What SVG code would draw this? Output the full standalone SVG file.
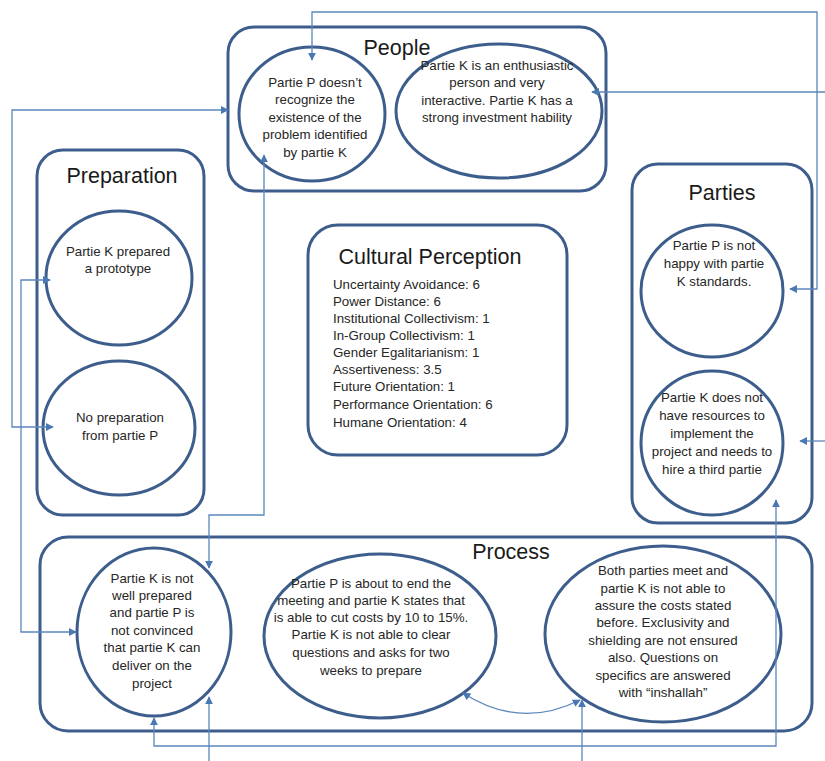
<svg xmlns="http://www.w3.org/2000/svg" width="825" height="761" viewBox="0 0 825 761">
  <style>
    .box { fill: #ffffff; stroke: #3d5e8c; stroke-width: 3; }
    .node { fill: #ffffff; stroke: #3d5e8c; stroke-width: 3; }
    .link { fill: none; stroke: #5b86bd; stroke-width: 1.3; }
    .title { font-family: "Liberation Sans", Arial, sans-serif; font-size: 21.5px; fill: #1a1a1a; text-anchor: middle; }
    .t { font-family: "Liberation Sans", Arial, sans-serif; font-size: 13.3px; fill: #262626; text-anchor: middle; }
    .list { font-family: "Liberation Sans", Arial, sans-serif; font-size: 13.3px; fill: #262626; }
  </style>
  <defs>
    <marker id="arrow" viewBox="0 0 10 10" refX="9" refY="5" markerWidth="8" markerHeight="8" markerUnits="userSpaceOnUse" orient="auto-start-reverse">
      <path d="M0,0 L10,5 L0,10 z" fill="#4a78b3"/>
    </marker>
  </defs>
  <rect width="825" height="761" fill="#ffffff"/>

  <!-- group containers -->
  <g id="people">
    <rect class="box" x="228" y="27" width="378" height="164" rx="26"/>
    <text class="title" x="397" y="55">People</text>
  </g>
  <g id="preparation">
    <rect class="box" x="37" y="150" width="167" height="365" rx="26"/>
    <text class="title" x="122" y="183">Preparation</text>
  </g>
  <g id="parties">
    <rect class="box" x="632" y="164" width="180" height="359" rx="26"/>
    <text class="title" x="722" y="200">Parties</text>
  </g>
  <g id="process">
    <rect class="box" x="40" y="537" width="772" height="194" rx="28"/>
    <text class="title" x="511" y="559">Process</text>
  </g>
  <g id="cultural-perception">
    <rect class="box" x="308" y="225" width="259" height="230" rx="30"/>
    <text class="title" x="430" y="264">Cultural Perception</text>
    <text class="list" x="333" y="289">Uncertainty Avoidance: 6</text>
    <text class="list" x="333" y="306">Power Distance: 6</text>
    <text class="list" x="333" y="323">Institutional Collectivism: 1</text>
    <text class="list" x="333" y="340">In-Group Collectivism: 1</text>
    <text class="list" x="333" y="357">Gender Egalitarianism: 1</text>
    <text class="list" x="333" y="374">Assertiveness: 3.5</text>
    <text class="list" x="333" y="391">Future Orientation: 1</text>
    <text class="list" x="333" y="409">Performance Orientation: 6</text>
    <text class="list" x="333" y="427">Humane Orientation: 4</text>
  </g>

  <!-- nodes -->
  <g id="p-not-recognize">
    <ellipse class="node" cx="312" cy="114" rx="73" ry="67"/>
    <text class="t" x="315" y="87">Partie P doesn’t</text>
    <text class="t" x="315" y="104">recognize the</text>
    <text class="t" x="315" y="122">existence of the</text>
    <text class="t" x="315" y="139">problem identified</text>
    <text class="t" x="315" y="157">by partie K</text>
  </g>
  <g id="k-enthusiastic">
    <ellipse class="node" cx="499" cy="111" rx="103" ry="67"/>
    <text class="t" x="497" y="70">Partie K is an enthusiastic</text>
    <text class="t" x="497" y="87">person and very</text>
    <text class="t" x="497" y="105">interactive. Partie K has a</text>
    <text class="t" x="497" y="122">strong investment hability</text>
  </g>
  <g id="k-prototype">
    <ellipse class="node" cx="119" cy="278" rx="73" ry="67"/>
    <text class="t" x="118" y="256">Partie K prepared</text>
    <text class="t" x="118" y="273">a prototype</text>
  </g>
  <g id="p-no-preparation">
    <ellipse class="node" cx="119" cy="428" rx="76" ry="67"/>
    <text class="t" x="120" y="422">No preparation</text>
    <text class="t" x="120" y="440">from partie P</text>
  </g>
  <g id="p-not-happy">
    <ellipse class="node" cx="712" cy="291" rx="71" ry="66"/>
    <text class="t" x="714" y="250">Partie P is not</text>
    <text class="t" x="714" y="268">happy with partie</text>
    <text class="t" x="714" y="286">K standards.</text>
  </g>
  <g id="k-no-resources">
    <ellipse class="node" cx="712" cy="443" rx="71" ry="72"/>
    <text class="t" x="712" y="402">Partie K does not</text>
    <text class="t" x="712" y="420">have resources to</text>
    <text class="t" x="712" y="438">implement the</text>
    <text class="t" x="712" y="456">project and needs to</text>
    <text class="t" x="712" y="474">hire a third partie</text>
  </g>
  <g id="k-not-prepared">
    <ellipse class="node" cx="154" cy="632" rx="77" ry="84"/>
    <text class="t" x="152" y="583">Partie K is not</text>
    <text class="t" x="152" y="600">well prepared</text>
    <text class="t" x="152" y="617">and partie P is</text>
    <text class="t" x="152" y="635">not convinced</text>
    <text class="t" x="152" y="652">that partie K can</text>
    <text class="t" x="152" y="670">deliver on the</text>
    <text class="t" x="152" y="688">project</text>
  </g>
  <g id="meeting-end">
    <ellipse class="node" cx="380" cy="636" rx="116" ry="82"/>
    <text class="t" x="371" y="588">Partie P is about to end the</text>
    <text class="t" x="371" y="605">meeting and partie K states that</text>
    <text class="t" x="371" y="622">is able to cut costs by 10 to 15%.</text>
    <text class="t" x="371" y="639">Partie K is not able to clear</text>
    <text class="t" x="371" y="657">questions and asks for two</text>
    <text class="t" x="371" y="675">weeks to prepare</text>
  </g>
  <g id="both-meet">
    <ellipse class="node" cx="663" cy="634" rx="118" ry="88"/>
    <text class="t" x="663" y="575">Both parties meet and</text>
    <text class="t" x="663" y="593">partie K is not able to</text>
    <text class="t" x="663" y="610">assure the costs stated</text>
    <text class="t" x="663" y="627">before. Exclusivity and</text>
    <text class="t" x="663" y="645">shielding are not ensured</text>
    <text class="t" x="663" y="662">also. Questions on</text>
    <text class="t" x="663" y="680">specifics are answered</text>
    <text class="t" x="663" y="697">with “inshallah”</text>
  </g>

  <!-- connectors -->
  <g id="connectors">
    <path class="link" d="M790,289 L817,289 L817,12 L312,12 L312,60" marker-start="url(#arrow)" marker-end="url(#arrow)"/>
    <path class="link" d="M825,92 L592,92" marker-end="url(#arrow)"/>
    <path class="link" d="M825,441 L800,441" marker-end="url(#arrow)"/>
    <path class="link" d="M228,110 L12,110 L12,427 L53,427" marker-start="url(#arrow)" marker-end="url(#arrow)"/>
    <path class="link" d="M50,280 L21,280 L21,632 L76,632" marker-start="url(#arrow)" marker-end="url(#arrow)"/>
    <path class="link" d="M264,155 L264,515 L209,515 L209,568" marker-start="url(#arrow)" marker-end="url(#arrow)"/>
    <path class="link" d="M154,718 L154,746 L776,746 L776,500" marker-start="url(#arrow)" marker-end="url(#arrow)"/>
    <path class="link" d="M209,761 L209,697" marker-end="url(#arrow)"/>
    <path class="link" d="M582,761 L582,700" marker-end="url(#arrow)"/>
    <path class="link" d="M463,693 Q520,730 580,700" marker-start="url(#arrow)" marker-end="url(#arrow)"/>
  </g>
</svg>
